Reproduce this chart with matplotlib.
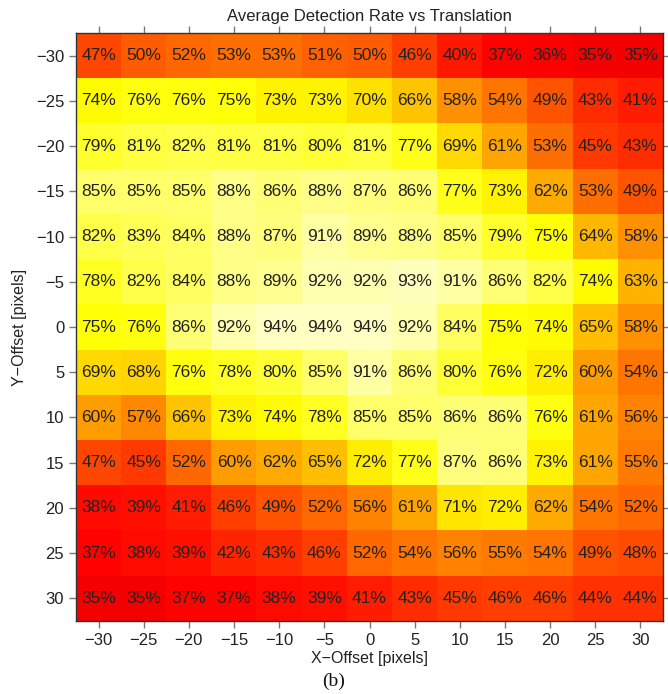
import numpy as np
import matplotlib
matplotlib.use("Agg")
import matplotlib.pyplot as plt

x_offsets = [-30, -25, -20, -15, -10, -5, 0, 5, 10, 15, 20, 25, 30]
y_offsets = [-30, -25, -20, -15, -10, -5, 0, 5, 10, 15, 20, 25, 30]

row_m30 = [47, 50, 52, 53, 53, 51, 50, 46, 40, 37, 36, 35, 35]
row_m25 = [74, 76, 76, 75, 73, 73, 70, 66, 58, 54, 49, 43, 41]
row_m20 = [79, 81, 82, 81, 81, 80, 81, 77, 69, 61, 53, 45, 43]
row_m15 = [85, 85, 85, 88, 86, 88, 87, 86, 77, 73, 62, 53, 49]
row_m10 = [82, 83, 84, 88, 87, 91, 89, 88, 85, 79, 75, 64, 58]
row_m5 = [78, 82, 84, 88, 89, 92, 92, 93, 91, 86, 82, 74, 63]
row_0 = [75, 76, 86, 92, 94, 94, 94, 92, 84, 75, 74, 65, 58]
row_5 = [69, 68, 76, 78, 80, 85, 91, 86, 80, 76, 72, 60, 54]
row_10 = [60, 57, 66, 73, 74, 78, 85, 85, 86, 86, 76, 61, 56]
row_15 = [47, 45, 52, 60, 62, 65, 72, 77, 87, 86, 73, 61, 55]
row_20 = [38, 39, 41, 46, 49, 52, 56, 61, 71, 72, 62, 54, 52]
row_25 = [37, 38, 39, 42, 43, 46, 52, 54, 56, 55, 54, 49, 48]
row_30 = [35, 35, 37, 37, 38, 39, 41, 43, 45, 46, 46, 44, 44]

rates = np.array([row_m30, row_m25, row_m20, row_m15, row_m10, row_m5, row_0,
                  row_5, row_10, row_15, row_20, row_25, row_30])

plt.rcParams['font.family'] = ['Liberation Sans', 'DejaVu Sans']

fig = plt.figure(figsize=(6.68, 6.94), dpi=100)
ax = fig.add_axes([76/668, 1-621/694, (663-76)/668, (621-33)/694])

xs = np.array(x_offsets)
ys = np.array(y_offsets)
ax.imshow(rates, cmap='hot', vmin=0, vmax=100, aspect='auto',
          extent=[xs[0]-2.5, xs[-1]+2.5, ys[-1]+2.5, ys[0]-2.5],
          interpolation='nearest')

for i, yv in enumerate(y_offsets):
    for j, xv in enumerate(x_offsets):
        ax.text(xv, yv, f"{rates[i, j]}%", ha='center', va='center',
                fontsize=12.5, color='#222222')

ax.set_xticks(x_offsets)
ax.set_yticks(y_offsets)
ax.set_xticklabels([str(v).replace('-', '\u2212') for v in x_offsets])
ax.set_yticklabels([str(v).replace('-', '\u2212') for v in y_offsets])
ax.tick_params(direction='out', length=5, width=1, color='#777777',
               labelsize=12, labelcolor='#222222', top=True, right=True,
               labeltop=False, labelright=False)
for s in ax.spines.values():
    s.set_color('#333333')
    s.set_linewidth(1)

ax.set_title('Average Detection Rate vs Translation', fontsize=12,
             color='#222222', pad=9)
ax.set_xlabel('X\u2212Offset [pixels]', fontsize=11.5, color='#222222', labelpad=2)
ax.set_ylabel('Y\u2212Offset [pixels]', fontsize=11.5, color='#222222', labelpad=6)
fig.text(0.5, 1 - 681/694, '(b)', ha='center', va='center',
         fontsize=14, family=['Liberation Serif', 'DejaVu Serif'], color='#111111',
         transform=fig.transFigure)

fig.savefig('out.png', dpi=100)
